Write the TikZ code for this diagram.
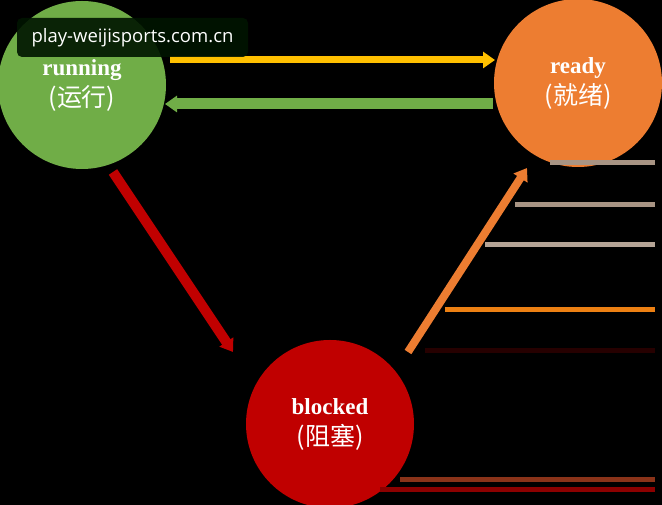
\documentclass[tikz,border=0pt]{standalone}
\usepackage{fontspec}
\setmainfont{Liberation Serif}
\newfontfamily\cjk{Noto Sans CJK SC}
\newfontfamily\wmfont{Open Sans}
\usetikzlibrary{arrows.meta}
\definecolor{runG}{HTML}{70AD47}
\definecolor{readyO}{HTML}{ED7D31}
\definecolor{blockR}{HTML}{C00000}
\definecolor{yel}{HTML}{FFC000}
\definecolor{tan}{HTML}{A89484}
\newcommand\cjkline[1]{{\cjk\mdseries\fontsize{25}{31}\selectfont(#1)}}
\tikzset{
  state/.style={circle, minimum size=168pt, inner sep=0pt, text=white, font=\bfseries\fontsize{23}{31}\selectfont, align=center},
  trans/.style={line width=#1, -{Triangle[length=12pt,width=16pt]}},
  rule/.style={line width=5pt}
}
\begin{document}
\begin{tikzpicture}[x=1pt,y=1pt]
\fill[black] (0,0) rectangle (662,505);
\useasboundingbox (0,0) rectangle (662,505);
\begin{scope}
\clip (0,0) rectangle (662,505);
% states
\node[state, fill=runG] (run) at (82,420) {running\\\cjkline{运行}};
\node[state, fill=readyO] (rdy) at (578,422) {ready\\\cjkline{就绪}};
\node[state, fill=blockR] (blk) at (330,81) {blocked\\\cjkline{阻塞}};
% side rules
\coordinate (r1) at (655,342);
\coordinate (r2) at (655,300);
\coordinate (r3) at (655,260);
\coordinate (r4) at (655,195);
\coordinate (r5) at (655,154);
\coordinate (r6) at (655,25);
\coordinate (r7) at (655,15);
\draw[rule, tan] (550,342) -- (r1);
\draw[rule, tan] (515,300) -- (r2);
\draw[rule, tan!85!white] (485,260) -- (r3);
\draw[rule, orange!70!brown] (445,195) -- (r4);
\draw[rule, black!85!red] (425,154) -- (r5);
\draw[rule, black!60!red!60!brown] (400,25) -- (r6);
\draw[rule, black!45!red] (380,15) -- (r7);
% transitions
\coordinate (y0) at (170,445);
\coordinate (y1) at (495,445);
\draw[trans=7pt, yel] (y0) -- (y1);
\coordinate (g0) at (493,401);
\coordinate (g1) at (165,401);
\draw[trans=11pt, runG] (g0) -- (g1);
\coordinate (d0) at (113,333);
\coordinate (d1) at (233,153);
\draw[trans=10pt, blockR] (d0) -- (d1);
\coordinate (u0) at (408,153);
\coordinate (u1) at (527,337);
\draw[trans=8pt, readyO] (u0) -- (u1);
\end{scope}
% watermark
\node[fill=black!80!green!40!black, opacity=0.9, text opacity=1, rounded corners=5pt, text=white,
  font=\wmfont\fontsize{18.5}{20}\selectfont, minimum width=231pt, minimum height=39pt] (wm) at (132.5,467.5) {play-weijisports.com.cn};
\end{tikzpicture}
\end{document}
